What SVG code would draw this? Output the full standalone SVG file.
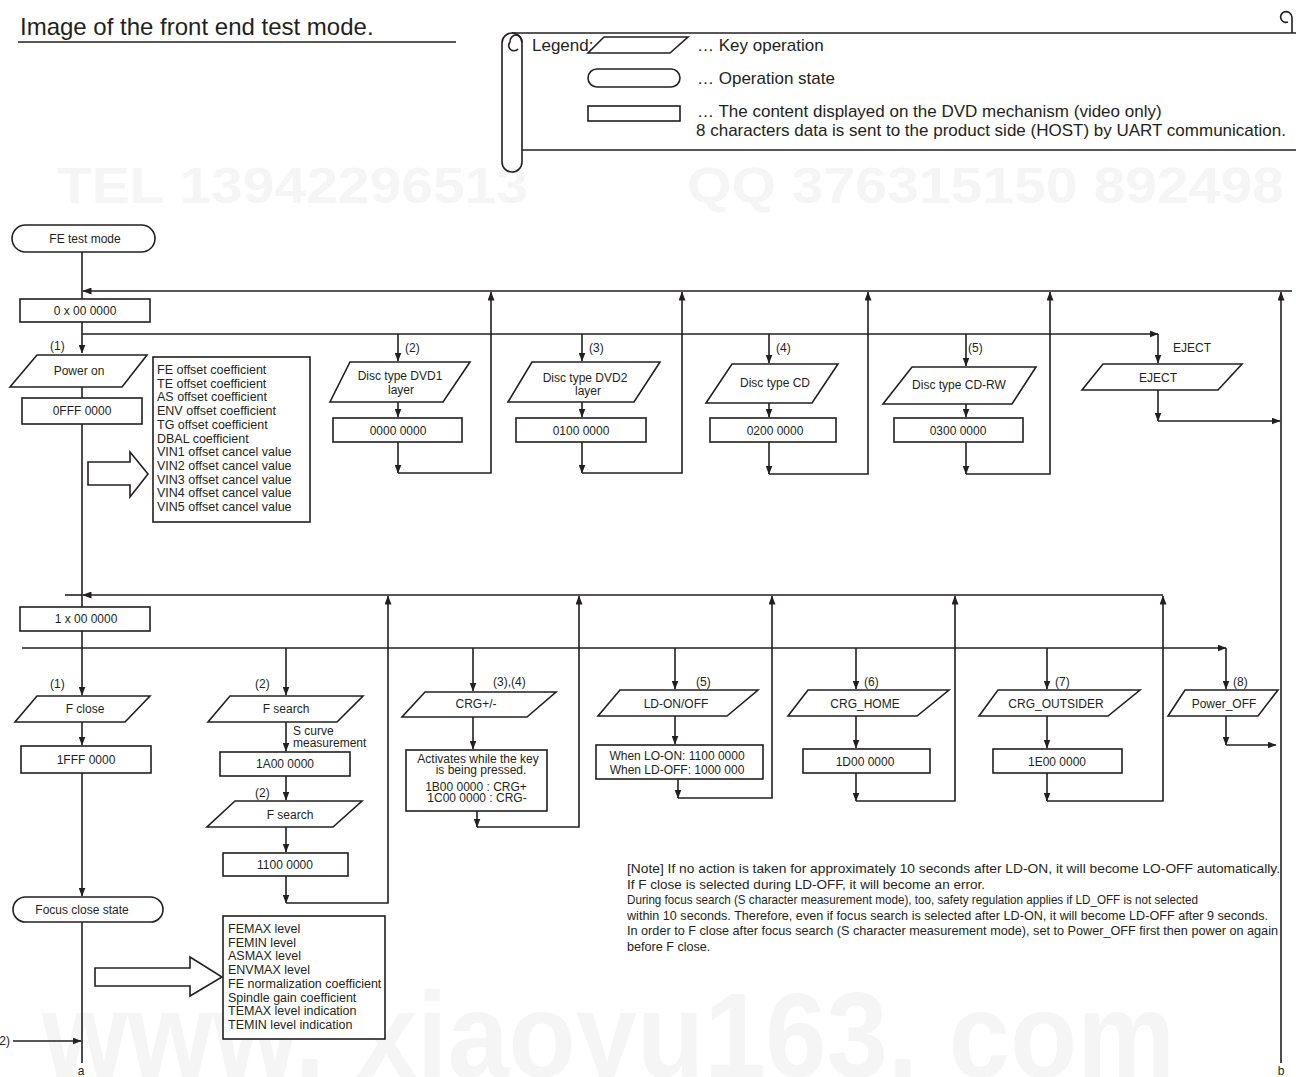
<svg xmlns="http://www.w3.org/2000/svg" width="1296" height="1077" viewBox="0 0 1296 1077">
<style>
.ln{fill:none;stroke:#231f20;stroke-width:1.6}
.bx{fill:#fff;stroke:#231f20;stroke-width:1.6}
.t{font-family:"Liberation Sans",Arial,sans-serif;font-size:12px;fill:#231f20}
.c{text-anchor:middle}
.lg{font-family:"Liberation Sans",Arial,sans-serif;font-size:17px;fill:#231f20}
.nt{font-family:"Liberation Sans",Arial,sans-serif;font-size:12.6px;fill:#231f20}
.ib{font-family:"Liberation Sans",Arial,sans-serif;font-size:12.5px;fill:#231f20}
.wm{font-family:"Liberation Sans",Arial,sans-serif;font-weight:bold;fill:#f5f5f5}
</style>
<defs>
<marker id="ah" markerWidth="9" markerHeight="7" refX="8.5" refY="3.5" orient="auto" markerUnits="userSpaceOnUse"><path d="M0,0 L9,3.5 L0,7 z" fill="#231f20"/></marker>
</defs>
<rect width="1296" height="1077" fill="#fff"/>
<g id="watermarks">
<text class="wm" x="57" y="203" font-size="50" textLength="471" lengthAdjust="spacingAndGlyphs">TEL 13942296513</text>
<text class="wm" x="687" y="203" font-size="50" textLength="597" lengthAdjust="spacingAndGlyphs">QQ 376315150 892498</text>
<text class="wm" x="42" y="1077" font-size="120" textLength="1133" lengthAdjust="spacingAndGlyphs">www. xiaoyu163. com</text>
</g>
<g id="title">
<text x="20" y="35" font-family="Liberation Sans, Arial, sans-serif" font-size="24" fill="#231f20">Image of the front end test mode.</text>
<line x1="18" y1="42" x2="456" y2="42" stroke="#231f20" stroke-width="1.4"/>
</g>
<g id="legend">
<rect x="502" y="33" width="20" height="139" rx="10" class="ln" stroke-width="1.4"/>
<path d="M522,42 A6,7 0 0 0 510,42 A5,5 0 0 0 518,49" class="ln" stroke-width="1.4"/>
<line x1="512" y1="33" x2="1296" y2="33" class="ln" stroke-width="1.4"/>
<line x1="522" y1="150" x2="1296" y2="150" class="ln" stroke-width="1.4"/>
<path d="M1292,33 V17 A6,6 0 0 0 1284,12 A5,5 0 0 0 1288,22" class="ln" stroke-width="1.4"/>
<text class="lg" x="532" y="51">Legend:</text>
<polygon points="604,37 688,37 670,53 588,53" class="bx" stroke-width="1.4"/>
<text class="lg" x="697" y="51">… Key operation</text>
<rect x="588" y="69" width="92" height="18" rx="9" class="bx" stroke-width="1.4"/>
<text class="lg" x="697" y="84">… Operation state</text>
<rect x="588" y="106" width="92" height="15" class="bx" stroke-width="1.4"/>
<text class="lg" x="697" y="117">… The content displayed on the DVD mechanism (video only)</text>
<text class="lg" x="696" y="136">8 characters data is sent to the product side (HOST) by UART communication.</text>
</g>
<g id="connectors">
<line x1="82" y1="252" x2="82" y2="299" class="ln"/>
<line x1="1281" y1="1063" x2="1281" y2="292" class="ln" marker-end="url(#ah)"/>
<line x1="1292" y1="291" x2="83" y2="291" class="ln" marker-end="url(#ah)"/>
<line x1="82" y1="322" x2="82" y2="353" class="ln" marker-end="url(#ah)"/>
<line x1="82" y1="334" x2="1158" y2="334" class="ln" marker-end="url(#ah)"/>
<line x1="398" y1="334" x2="398" y2="361" class="ln" marker-end="url(#ah)"/>
<line x1="582" y1="334" x2="582" y2="361" class="ln" marker-end="url(#ah)"/>
<line x1="769" y1="334" x2="769" y2="363" class="ln" marker-end="url(#ah)"/>
<line x1="966" y1="334" x2="966" y2="366" class="ln" marker-end="url(#ah)"/>
<line x1="1158" y1="334" x2="1158" y2="363" class="ln" marker-end="url(#ah)"/>
<line x1="398" y1="402" x2="398" y2="417" class="ln" marker-end="url(#ah)"/>
<line x1="582" y1="402" x2="582" y2="417" class="ln" marker-end="url(#ah)"/>
<line x1="769" y1="403" x2="769" y2="417" class="ln" marker-end="url(#ah)"/>
<line x1="966" y1="404" x2="966" y2="417" class="ln" marker-end="url(#ah)"/>
<line x1="398" y1="442" x2="398" y2="473" class="ln" marker-end="url(#ah)"/>
<polyline points="398,473 491,473 491,292" class="ln" marker-end="url(#ah)"/>
<line x1="582" y1="442" x2="582" y2="473" class="ln" marker-end="url(#ah)"/>
<polyline points="582,473 682,473 682,292" class="ln" marker-end="url(#ah)"/>
<line x1="769" y1="442" x2="769" y2="474" class="ln" marker-end="url(#ah)"/>
<polyline points="769,474 868,474 868,292" class="ln" marker-end="url(#ah)"/>
<line x1="966" y1="442" x2="966" y2="474" class="ln" marker-end="url(#ah)"/>
<polyline points="966,474 1050,474 1050,292" class="ln" marker-end="url(#ah)"/>
<line x1="1158" y1="390" x2="1158" y2="421" class="ln" marker-end="url(#ah)"/>
<line x1="1158" y1="421" x2="1280" y2="421" class="ln" marker-end="url(#ah)"/>
<line x1="82" y1="386" x2="82" y2="398" class="ln"/>
<line x1="82" y1="424" x2="82" y2="607" class="ln"/>
<line x1="1163" y1="595" x2="83" y2="595" class="ln" marker-end="url(#ah)"/>
<line x1="82" y1="595" x2="65" y2="595" class="ln"/>
<line x1="22" y1="648" x2="1226" y2="648" class="ln" marker-end="url(#ah)"/>
<line x1="82" y1="631" x2="82" y2="695" class="ln" marker-end="url(#ah)"/>
<line x1="286" y1="648" x2="286" y2="695" class="ln" marker-end="url(#ah)"/>
<line x1="473" y1="648" x2="473" y2="691" class="ln" marker-end="url(#ah)"/>
<line x1="675" y1="648" x2="675" y2="689" class="ln" marker-end="url(#ah)"/>
<line x1="856" y1="648" x2="856" y2="689" class="ln" marker-end="url(#ah)"/>
<line x1="1047" y1="648" x2="1047" y2="689" class="ln" marker-end="url(#ah)"/>
<line x1="1226" y1="648" x2="1226" y2="689" class="ln" marker-end="url(#ah)"/>
<line x1="82" y1="722" x2="82" y2="745" class="ln" marker-end="url(#ah)"/>
<line x1="82" y1="773" x2="82" y2="896" class="ln" marker-end="url(#ah)"/>
<line x1="82" y1="922" x2="82" y2="1063" class="ln"/>
<line x1="13" y1="1041" x2="81" y2="1041" class="ln" marker-end="url(#ah)"/>
<line x1="286" y1="722" x2="286" y2="751" class="ln" marker-end="url(#ah)"/>
<line x1="286" y1="776" x2="286" y2="800" class="ln" marker-end="url(#ah)"/>
<line x1="286" y1="827" x2="286" y2="852" class="ln" marker-end="url(#ah)"/>
<line x1="286" y1="876" x2="286" y2="903" class="ln" marker-end="url(#ah)"/>
<polyline points="286,903 388,903 388,596" class="ln" marker-end="url(#ah)"/>
<line x1="473" y1="717" x2="473" y2="749" class="ln" marker-end="url(#ah)"/>
<line x1="477" y1="811" x2="477" y2="827" class="ln" marker-end="url(#ah)"/>
<polyline points="477,827 579,827 579,596" class="ln" marker-end="url(#ah)"/>
<line x1="675" y1="716" x2="675" y2="744" class="ln" marker-end="url(#ah)"/>
<line x1="678" y1="779" x2="678" y2="798" class="ln" marker-end="url(#ah)"/>
<polyline points="678,798 772,798 772,596" class="ln" marker-end="url(#ah)"/>
<line x1="856" y1="716" x2="856" y2="748" class="ln" marker-end="url(#ah)"/>
<line x1="856" y1="773" x2="856" y2="801" class="ln" marker-end="url(#ah)"/>
<polyline points="856,801 955,801 955,596" class="ln" marker-end="url(#ah)"/>
<line x1="1047" y1="716" x2="1047" y2="748" class="ln" marker-end="url(#ah)"/>
<line x1="1047" y1="773" x2="1047" y2="801" class="ln" marker-end="url(#ah)"/>
<polyline points="1047,801 1163,801 1163,596" class="ln" marker-end="url(#ah)"/>
<line x1="1226" y1="716" x2="1226" y2="745" class="ln" marker-end="url(#ah)"/>
<line x1="1226" y1="745" x2="1276" y2="745" class="ln" marker-end="url(#ah)"/>
</g>
<g id="n-fe-test-mode"><rect x="12" y="225" width="143" height="27" rx="13.5" class="bx"/><text class="t c" x="85" y="243">FE test mode</text></g>
<g id="n-0x00"><rect x="20" y="299" width="130" height="23" class="bx"/><text class="t c" x="85" y="315">0 x 00 0000</text></g>
<g id="n-power-on"><polygon points="37,355 147,355 122,387 10,387" class="bx"/><text class="t c" x="79" y="375">Power on</text><text class="t" x="50" y="350">(1)</text></g>
<g id="n-0fff"><rect x="22" y="398" width="120" height="26" class="bx"/><text class="t c" x="82" y="415">0FFF 0000</text></g>
<g id="n-info1"><rect x="153" y="357" width="157" height="165" class="bx"/>
<text class="ib" x="157" y="374">FE offset coefficient</text>
<text class="ib" x="157" y="387.7">TE offset coefficient</text>
<text class="ib" x="157" y="401.4">AS offset coefficient</text>
<text class="ib" x="157" y="415.1">ENV offset coefficient</text>
<text class="ib" x="157" y="428.8">TG offset coefficient</text>
<text class="ib" x="157" y="442.5">DBAL coefficient</text>
<text class="ib" x="157" y="456.2">VIN1 offset cancel value</text>
<text class="ib" x="157" y="469.9">VIN2 offset cancel value</text>
<text class="ib" x="157" y="483.6">VIN3 offset cancel value</text>
<text class="ib" x="157" y="497.3">VIN4 offset cancel value</text>
<text class="ib" x="157" y="511">VIN5 offset cancel value</text></g>
<g id="n-arrow1"><path d="M88,462 H130 V452 L148,474 L130,497 V485 H88 Z" class="bx"/></g>
<g id="n-dvd1"><polygon points="350,362 470,362 443,402 330,402" class="bx"/><text class="t c" x="400" y="380">Disc type DVD1</text><text class="t c" x="401" y="394">layer</text><text class="t" x="405" y="352">(2)</text></g>
<g id="n-0000"><rect x="333" y="418" width="129" height="24" class="bx"/><text class="t c" x="398" y="435">0000 0000</text></g>
<g id="n-dvd2"><polygon points="532,362 660,362 634,402 508,402" class="bx"/><text class="t c" x="585" y="382">Disc type DVD2</text><text class="t c" x="588" y="395">layer</text><text class="t" x="589" y="352">(3)</text></g>
<g id="n-0100"><rect x="516" y="418" width="130" height="24" class="bx"/><text class="t c" x="581" y="435">0100 0000</text></g>
<g id="n-cd"><polygon points="732,364 838,364 812,403 706,403" class="bx"/><text class="t c" x="775" y="387">Disc type CD</text><text class="t" x="776" y="352">(4)</text></g>
<g id="n-0200"><rect x="710" y="418" width="126" height="24" class="bx"/><text class="t c" x="775" y="435">0200 0000</text></g>
<g id="n-cdrw"><polygon points="912,367 1036,367 1012,404 883,404" class="bx"/><text class="t c" x="959" y="389">Disc type CD-RW</text><text class="t" x="968" y="352">(5)</text></g>
<g id="n-0300"><rect x="894" y="418" width="129" height="24" class="bx"/><text class="t c" x="958" y="435">0300 0000</text></g>
<g id="n-eject"><polygon points="1103,364 1242,364 1218,390 1082,390" class="bx"/><text class="t c" x="1158" y="382">EJECT</text><text class="t" x="1173" y="352">EJECT</text></g>
<g id="n-1x00"><rect x="20" y="607" width="130" height="24" class="bx"/><text class="t c" x="86" y="623">1 x 00 0000</text></g>
<g id="n-fclose"><polygon points="37,696 150,696 125,722 15,722" class="bx"/><text class="t c" x="85" y="713">F close</text><text class="t" x="50" y="688">(1)</text></g>
<g id="n-1fff"><rect x="21" y="746" width="130" height="27" class="bx"/><text class="t c" x="86" y="764">1FFF 0000</text></g>
<g id="n-focus-close"><rect x="13" y="897" width="150" height="25" rx="12.5" class="bx"/><text class="t c" x="82" y="914">Focus close state</text></g>
<g id="n-info2"><rect x="223" y="916" width="162" height="123" class="bx"/>
<text class="ib" x="228" y="933">FEMAX level</text>
<text class="ib" x="228" y="946.7">FEMIN level</text>
<text class="ib" x="228" y="960.4">ASMAX level</text>
<text class="ib" x="228" y="974.1">ENVMAX level</text>
<text class="ib" x="228" y="987.8">FE normalization coefficient</text>
<text class="ib" x="228" y="1001.5">Spindle gain coefficient</text>
<text class="ib" x="228" y="1015.2">TEMAX level indication</text>
<text class="ib" x="228" y="1028.9">TEMIN level indication</text></g>
<g id="n-arrow2"><path d="M95,968 H190 V957 L222,977 L190,996 V986 H95 Z" class="bx"/></g>
<g id="n-fsearch1"><polygon points="230,696 363,696 337,722 208,722" class="bx"/><text class="t c" x="286" y="713">F search</text><text class="t" x="255" y="688">(2)</text>
<text class="t" x="293" y="735">S curve</text><text class="t" x="293" y="747">measurement</text></g>
<g id="n-1a00"><rect x="220" y="752" width="130" height="24" class="bx"/><text class="t c" x="285" y="768">1A00 0000</text></g>
<g id="n-fsearch2"><polygon points="235,801 362,801 333,827 207,827" class="bx"/><text class="t c" x="290" y="819">F search</text><text class="t" x="255" y="797">(2)</text></g>
<g id="n-1100"><rect x="223" y="853" width="125" height="23" class="bx"/><text class="t c" x="285" y="869">1100 0000</text></g>
<g id="n-crg"><polygon points="425,692 556,692 527,717 402,717" class="bx"/><text class="t c" x="476" y="708">CRG+/-</text><text class="t" x="493" y="686">(3),(4)</text></g>
<g id="n-crg-box"><rect x="406" y="750" width="141" height="61" class="bx"/>
<text class="t c" x="478" y="763">Activates while the key</text>
<text class="t c" x="481" y="774">is being pressed.</text>
<text class="t c" x="476" y="791">1B00 0000 : CRG+</text>
<text class="t c" x="477" y="802">1C00 0000 : CRG-</text></g>
<g id="n-ld"><polygon points="620,690 758,690 727,716 598,716" class="bx"/><text class="t c" x="676" y="708">LD-ON/OFF</text><text class="t" x="696" y="686">(5)</text></g>
<g id="n-ld-box"><rect x="596" y="745" width="167" height="34" class="bx"/>
<text class="t c" x="677" y="760">When LO-ON: 1100 0000</text>
<text class="t c" x="677" y="774">When LD-OFF: 1000 000</text></g>
<g id="n-home"><polygon points="808,690 949,690 917,716 788,716" class="bx"/><text class="t c" x="865" y="708">CRG_HOME</text><text class="t" x="864" y="686">(6)</text></g>
<g id="n-1d00"><rect x="803" y="749" width="127" height="24" class="bx"/><text class="t c" x="865" y="766">1D00 0000</text></g>
<g id="n-outsider"><polygon points="998,690 1140,690 1108,716 979,716" class="bx"/><text class="t c" x="1056" y="708">CRG_OUTSIDER</text><text class="t" x="1055" y="686">(7)</text></g>
<g id="n-1e00"><rect x="993" y="749" width="129" height="24" class="bx"/><text class="t c" x="1057" y="766">1E00 0000</text></g>
<g id="n-poweroff"><polygon points="1185,690 1278,690 1258,716 1168,716" class="bx"/><text class="t c" x="1224" y="708">Power_OFF</text><text class="t" x="1233" y="686">(8)</text></g>
<g id="labels">
<text class="t" x="10" y="1045" text-anchor="end">(2)</text>
<text class="t c" x="81" y="1075" font-size="11">a</text>
<text class="t c" x="1281" y="1075" font-size="11">b</text>
</g>
<g id="note">
<text class="nt" x="627" y="873" textLength="653" lengthAdjust="spacingAndGlyphs">[Note] If no action is taken for approximately 10 seconds after LD-ON, it will become LO-OFF automatically.</text>
<text class="nt" x="627" y="888.5" textLength="358" lengthAdjust="spacingAndGlyphs">If F close is selected during LD-OFF, it will become an error.</text>
<text class="nt" x="627" y="904" textLength="571" lengthAdjust="spacingAndGlyphs">During focus search (S character measurement mode), too, safety regulation applies if LD_OFF is not selected</text>
<text class="nt" x="627" y="919.5" textLength="641" lengthAdjust="spacingAndGlyphs">within 10 seconds. Therefore, even if focus search is selected after LD-ON, it will become LD-OFF after 9 seconds.</text>
<text class="nt" x="627" y="935" textLength="651" lengthAdjust="spacingAndGlyphs">In order to F close after focus search (S character measurement mode), set to Power_OFF first then power on again</text>
<text class="nt" x="627" y="950.5">before F close.</text>
</g>
</svg>
